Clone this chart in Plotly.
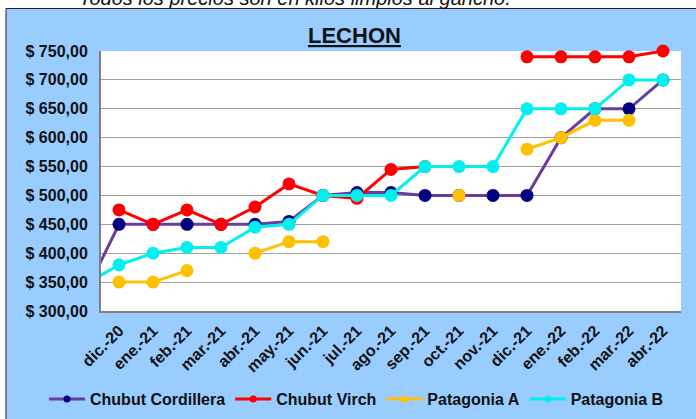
import plotly.graph_objects as go

# ---------------- data ----------------
months = ["nov.-20", "dic.-20", "ene.-21", "feb.-21", "mar.-21", "abr.-21", "may.-21",
          "jun.-21", "jul.-21", "ago.-21", "sep.-21", "oct.-21", "nov.-21", "dic.-21",
          "ene.-22", "feb.-22", "mar.-22", "abr.-22"]

chubut_cordillera = [330, 450, 450, 450, 450, 450, 455, 500, 505, 505, 500, 500, 500, 500,
                     600, 650, 650, 700]
chubut_virch = [None, 475, 450, 475, 450, 480, 520, 500, 495, 545, 550, None, None, 740,
                740, 740, 740, 750]
patagonia_a = [None, 350, 350, 370, None, 400, 420, 420, None, None, None, 500, None, 580,
               600, 630, 630, None]
patagonia_b = [346, 380, 400, 410, 410, 445, 450, 500, 500, 500, 550, 550, 550, 650,
               650, 650, 700, 700]

series_names = ["Chubut Cordillera", "Chubut Virch", "Patagonia A", "Patagonia B"]

y_tick_values = [300, 350, 400, 450, 500, 550, 600, 650, 700, 750]
y_tick_labels = ["$ 300,00", "$ 350,00", "$ 400,00", "$ 450,00", "$ 500,00",
                 "$ 550,00", "$ 600,00", "$ 650,00", "$ 700,00", "$ 750,00"]

title_text = "LECHON"
subtitle_text = "Todos los precios son en kilos limpios al gancho."

# ---------------- styling ----------------
FONT = "Liberation Sans, Arial, sans-serif"
BLUE = "#99CCFF"
styles = [
    dict(line="#6A3BA0", marker="#000080"),
    dict(line="#FF0000", marker="#FF0000"),
    dict(line="#FFC000", marker="#FFC000"),
    dict(line="#00F0F0", marker="#00F0F0"),
]
all_series = [chubut_cordillera, chubut_virch, patagonia_a, patagonia_b]

W, H = 696, 419
L, R, T, B = 101, 15, 51, 108
pw, ph = W - L - R, H - T - B


def px_x(px):
    return (px - L) / pw


def px_y(py):
    return (H - B - py) / ph


fig = go.Figure()
for name, vals, st in zip(series_names, all_series, styles):
    # line over every month (the earliest month lies left of the visible range and is clipped)
    fig.add_trace(go.Scatter(
        x=months, y=vals, name=name, mode="lines",
        line=dict(color=st["line"], width=3),
        showlegend=False, hoverinfo="skip",
    ))
    # markers for the shown months, not clipped at the frame
    fig.add_trace(go.Scatter(
        x=months[1:], y=vals[1:], name=name, mode="markers",
        marker=dict(color=st["marker"], size=13),
        showlegend=False, cliponaxis=False,
    ))
# legend entries (smaller symbols, like the original)
for name, st in zip(series_names, styles):
    fig.add_trace(go.Scatter(
        x=[None], y=[None], name=name, mode="lines+markers",
        line=dict(color=st["line"], width=3),
        marker=dict(color=st["marker"], size=7),
    ))

fig.update_layout(
    width=W, height=H,
    margin=dict(l=L, r=R, t=T, b=B, autoexpand=False),
    paper_bgcolor="white",
    plot_bgcolor="white",
    font=dict(family=FONT, color="#111111"),
    showlegend=True,
    legend=dict(
        orientation="h", x=px_x(44), xanchor="left", y=px_y(399), yanchor="middle",
        font=dict(family=FONT, size=16, color="#111111", weight="bold"),
        bgcolor="rgba(0,0,0,0)", itemwidth=36, tracegroupgap=0,
    ),
    shapes=[
        dict(type="rect", xref="paper", yref="paper", layer="below",
             x0=px_x(6), x1=px_x(720), y0=px_y(440), y1=px_y(8.5),
             fillcolor=BLUE, line=dict(color="#222222", width=1)),
        dict(type="rect", xref="paper", yref="paper", layer="below",
             x0=0, x1=1, y0=0, y1=1, fillcolor="white", line=dict(width=0)),
    ],
    annotations=[
        dict(text="<u><b>" + title_text + "</b></u>", xref="paper", yref="paper",
             x=px_x(354), y=px_y(35), xanchor="center", yanchor="middle",
             showarrow=False, font=dict(family=FONT, size=22, color="#111111")),
        dict(text="<i>" + subtitle_text + "</i>", xref="paper", yref="paper",
             x=px_x(77), y=px_y(11), xanchor="left", yanchor="bottom",
             showarrow=False, font=dict(family=FONT, size=20, color="#111111")),
    ],
)

fig.update_xaxes(
    type="category", categoryorder="array", categoryarray=months,
    range=[0.47, 17.53], tickangle=-45,
    tickfont=dict(family=FONT, size=16, color="#111111", weight="bold"),
    showgrid=False, showline=True, linecolor="#808080", linewidth=2,
    ticks="", ticklabelstandoff=2, fixedrange=True, automargin=False,
)
fig.update_yaxes(
    range=[300, 750], tickvals=y_tick_values, ticktext=y_tick_labels,
    tickfont=dict(family=FONT, size=16, color="#111111", weight="bold"),
    showgrid=True, gridcolor="#A0A0A0", gridwidth=1,
    showline=True, linecolor="#808080", linewidth=2,
    ticks="", ticklabelstandoff=8, zeroline=False, fixedrange=True, automargin=False,
)

fig.write_html("out.html", config={"displayModeBar": False},
               post_script="document.body.style.margin='0px';")
